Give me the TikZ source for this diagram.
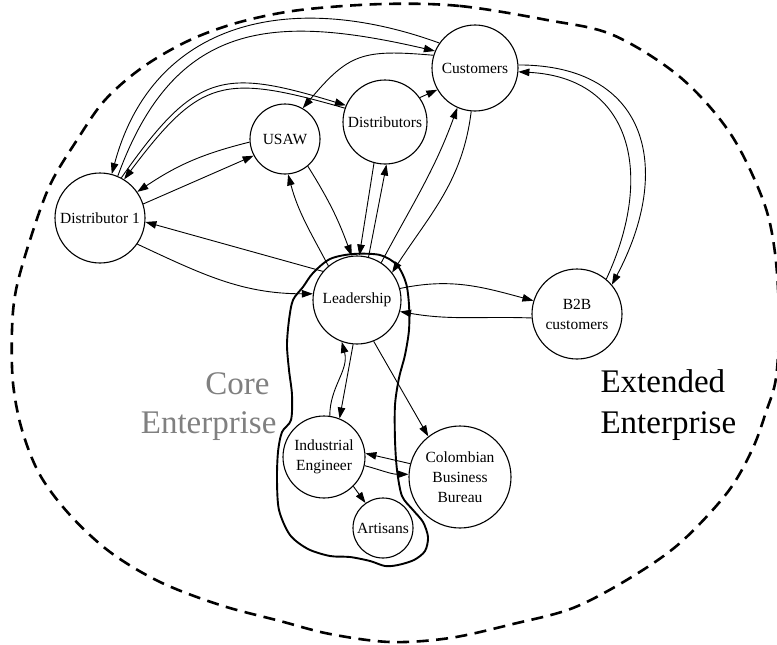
\documentclass[tikz,border=0pt]{standalone}
\usepackage{fontspec}
\setmainfont{Liberation Serif}
\usetikzlibrary{arrows.meta}
\begin{document}
\begin{tikzpicture}[x=1pt,y=-1pt,
  actor/.style={circle,draw,line width=1.1pt,fill=white,inner sep=0pt,align=center,
    font=\fontsize{15.5}{20}\selectfont},
  link/.style={line width=0.9pt,-{Triangle[length=11pt,width=7.5pt]}},
  realm/.style={font=\fontsize{33}{39}\selectfont},
  outerline/.style={line width=2.6pt,dash pattern=on 12pt off 7.5pt},
  coreline/.style={line width=1.9pt,line join=round},
]
\useasboundingbox (0,0) rectangle (777,645);

% extended enterprise boundary
\draw[outerline] plot[smooth cycle,tension=0.55] coordinates {
  (383,4) (460,6) (547,20) (613,35) (680,77) (730,133) (763,200) (775,253)
  (779,320) (776,378) (766,412) (752,450) (727,493) (680,543) (630,578)
  (573,608) (513,624) (450,638) (390,642) (330,634) (280,621) (220,605)
  (160,582) (110,552) (70,515) (40,475) (22,430) (13,383) (12,330) (16,290)
  (30,240) (50,185) (77,140) (105,100) (143,67) (190,40) (240,22) (300,10)};

% core enterprise boundary
\draw[coreline] plot[smooth cycle,tension=0.5] coordinates {
  (293,300) (303,287) (313,273) (330,259) (353,254) (380,255) (397,265)
  (406,283) (409,305) (409,330) (405,355) (399,378) (395,405) (395,440)
  (397,470) (402,496) (413,510) (423,522) (428,537) (425,551) (414,560)
  (398,565) (385,566) (370,561) (350,557) (330,556) (308,549) (290,535)
  (279,510) (277,480) (278,452) (282,432) (291,420) (292,395) (289,370)
  (287,345) (289,320)};

% actors
\node[actor,minimum size=90pt]  (d1)   at (100,218) {Distributor 1};
\node[actor,minimum size=70pt]  (usaw) at (285,139) {USAW};
\node[actor,minimum size=84pt]  (dist) at (385,122) {Distributors};
\node[actor,minimum size=86pt]  (cust) at (475,68)  {Customers};
\node[actor,minimum size=88pt]  (lead) at (357,300) {Leadership};
\node[actor,minimum size=90pt]  (b2b)  at (577,314) {B2B\\customers};
\node[actor,minimum size=82pt]  (ie)   at (324,457) {Industrial\\Engineer};
\node[actor,minimum size=102pt] (cbb)  at (460,477) {Colombian\\Business\\Bureau};
\node[actor,minimum size=60pt]  (art)  at (383,528) {Artisans};

% region labels
\node[realm,text=black!50,anchor=base east] (coreA) at (273,394) {Core};
\node[realm,text=black!50,anchor=base east] (coreB) at (280,433) {Enterprise};
\node[realm,anchor=base west] (extA) at (597,392) {Extended};
\node[realm,anchor=base west] (extB) at (597,433) {Enterprise};

% long arcs across the top
\draw[link] (cust.145) to[out=160,in=75,looseness=1.15] (d1.75);
\draw[link] (d1.67) to[out=70,in=167,looseness=1.25] (cust.157);
\draw[link] (cust.163) to[out=175,in=50,looseness=1.3] (usaw.60);
\draw[link] (d1.62) to[out=55,in=163,looseness=1.4] (dist.157);
\draw[link] (dist.161) to[out=164,in=53,looseness=1.4] (d1.58);

% distributor 1 and USAW
\draw[link] (usaw.185) to[bend right=10] (d1.35);
\draw[link] (d1.18) -- (usaw.208);

% distributor 1 and leadership
\draw[link] (lead.140) -- (d1.355);
\draw[link] (d1.325) to[out=-25,in=180] (lead.172);

% USAW and leadership
\draw[link] (lead.130) to[out=118,in=-75] (usaw.275);
\draw[link] (usaw.310) to[out=-58,in=110] (lead.97);

% distributors and leadership
\draw[link] (dist.255) -- (lead.87);
\draw[link] (lead.75) -- (dist.272);

% customers and leadership
\draw[link] (lead.57) to[out=62,in=250] (cust.246);
\draw[link] (cust.265) to[out=-97,in=57] (lead.38);

\draw[link] (dist.35) -- (cust.210);

% customers and B2B customers
\draw[link] (cust.4) to[out=0,in=62,looseness=1.4] (b2b.40);
\draw[link] (b2b.50) to[out=65,in=-3,looseness=1.3] (cust.355);

% leadership and B2B customers
\draw[link] (lead.15) to[out=12,in=165] (b2b.163);
\draw[link] (b2b.185) to[out=178,in=-10] (lead.345);

% inside the core enterprise
\draw[link] (ie.82) to[out=90,in=-75] (lead.250);
\draw[link] (lead.265) -- (ie.68);
\draw[link] (lead.292) -- (cbb.128);
\draw[link] (cbb.165) -- (ie.5);
\draw[link] (ie.348) to[out=-15,in=180] (cbb.177);
\draw[link] (ie.315) -- (art.125);
\end{tikzpicture}
\end{document}
